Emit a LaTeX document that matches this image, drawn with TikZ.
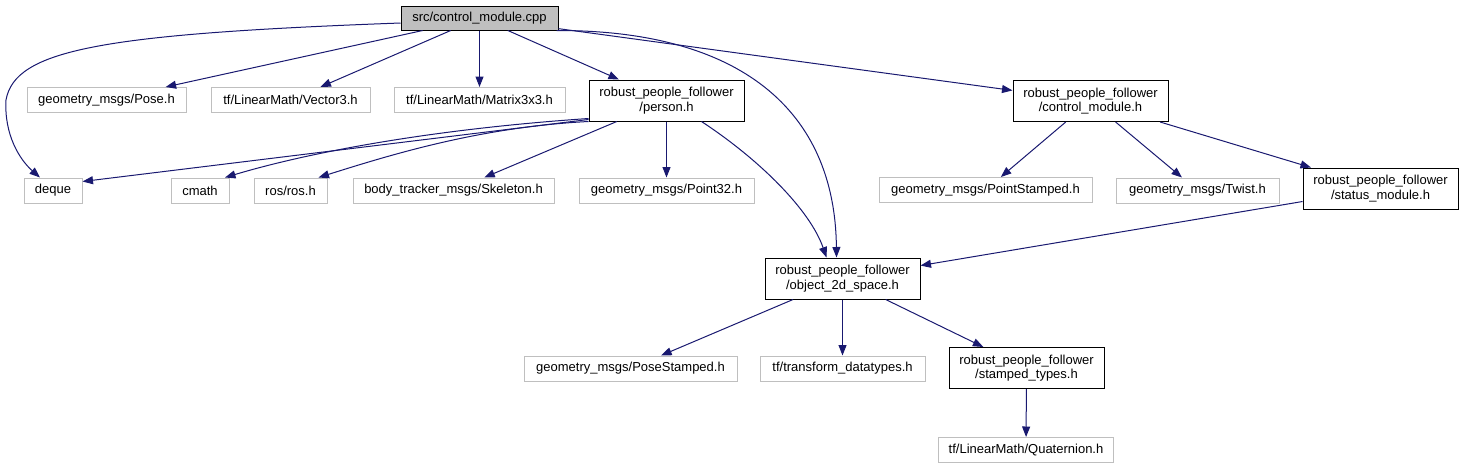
\documentclass[tikz,border=0pt]{standalone}
\usepackage{fontspec}
\setmainfont{Liberation Sans}
\usetikzlibrary{arrows.meta}
\definecolor{depblue}{RGB}{25,25,112}
\definecolor{extgray}{RGB}{191,191,191}
\tikzset{
  hbox/.style={rectangle,line width=1pt,font=\fontsize{13}{14.5}\selectfont,
    align=center,inner sep=2pt,minimum height=25pt,minimum width=#1},
  ext/.style={hbox=#1,draw=extgray},                       % system / external header
  loc/.style={hbox=#1,draw=black,minimum height=41pt},     % project header
  srcf/.style={hbox=#1,draw=black,fill=extgray,minimum height=24pt}, % the source file
  dep/.style={-{Triangle[length=10.5pt,width=8pt]},line width=1pt,draw=depblue},
}
\begin{document}
\begin{tikzpicture}[x=1pt,y=-1pt]
  \useasboundingbox (0,0) rectangle (1463,469);
  % the file itself
  \node[srcf=157] (cpp) at (479.5,18) {src/control\_module.cpp};
  % first level
  \node[ext=159] (pose) at (106.5,100) {geometry\_msgs/Pose.h};
  \node[ext=159] (vec3) at (290.5,100) {tf/LinearMath/Vector3.h};
  \node[ext=171] (mat3) at (479.5,100) {tf/LinearMath/Matrix3x3.h};
  \node[loc=155] (person) at (666.5,100.5) {robust\_people\_follower\\/person.h};
  \node[loc=155] (ctrlh) at (1090.5,101) {robust\_people\_follower\\/control\_module.h};
  % second level
  \node[ext=58] (deque) at (53,190.5) {deque};
  \node[ext=58] (cmath) at (200,190.5) {cmath};
  \node[ext=73] (ros) at (290.5,190.5) {ros/ros.h};
  \node[ext=201] (skel) at (453.5,190.5) {body\_tracker\_msgs/Skeleton.h};
  \node[ext=175] (pt32) at (666.5,190.5) {geometry\_msgs/Point32.h};
  \node[ext=213] (ptst) at (985.5,190) {geometry\_msgs/PointStamped.h};
  \node[ext=163] (twist) at (1197.5,190.5) {geometry\_msgs/Twist.h};
  \node[loc=155] (status) at (1380.5,188.5) {robust\_people\_follower\\/status\_module.h};
  % third level and below
  \node[loc=155] (obj2d) at (842.5,278.5) {robust\_people\_follower\\/object\_2d\_space.h};
  \node[ext=213] (posest) at (630.5,368.5) {geometry\_msgs/PoseStamped.h};
  \node[ext=165] (tfdt) at (842.5,368.5) {tf/transform\_datatypes.h};
  \node[loc=155] (stamped) at (1026.5,368) {robust\_people\_follower\\/stamped\_types.h};
  \node[ext=175] (quat) at (1026,450) {tf/LinearMath/Quaternion.h};

  % includes of the source file
  \draw[dep] ([yshift=-5pt]cpp.west) .. controls (100,34) and (15,50) .. (6,100)
    .. controls (4,135) and (20,160) .. ([xshift=-13pt]deque.north);
  \draw[dep] (cpp) -- (pose);
  \draw[dep] (cpp) -- (vec3);
  \draw[dep] (cpp) -- (mat3);
  \draw[dep] (cpp) -- (person);
  \draw[dep] ([xshift=-2pt]cpp.south east) .. controls (740,30) and (835,110) .. ([xshift=-6pt]obj2d.north);
  \draw[dep] (cpp) -- (ctrlh);
  % person.h
  \draw[dep] ([yshift=2pt]person.south west) -- ([yshift=9pt]deque.east);
  \draw[dep] ([yshift=3pt]person.south west) .. controls (420,130) and (300,155) .. ([xshift=25pt]cmath.north);
  \draw[dep] (person.south west) .. controls (480,127) and (390,155) .. ([xshift=28pt]ros.north);
  \draw[dep] (person) -- (skel);
  \draw[dep] (person) -- (pt32);
  \draw[dep] ([xshift=35pt]person.south) .. controls (760,160) and (810,210) .. ([xshift=-16pt]obj2d.north);
  % control_module.h
  \draw[dep] (ctrlh) -- (ptst);
  \draw[dep] (ctrlh) -- (twist);
  \draw[dep] (ctrlh) -- (status);
  \draw[dep] (status) -- (obj2d);
  % object_2d_space.h
  \draw[dep] (obj2d) -- (posest);
  \draw[dep] (obj2d) -- (tfdt);
  \draw[dep] (obj2d) -- (stamped);
  \draw[dep] (stamped) -- (quat);
\end{tikzpicture}
\end{document}
